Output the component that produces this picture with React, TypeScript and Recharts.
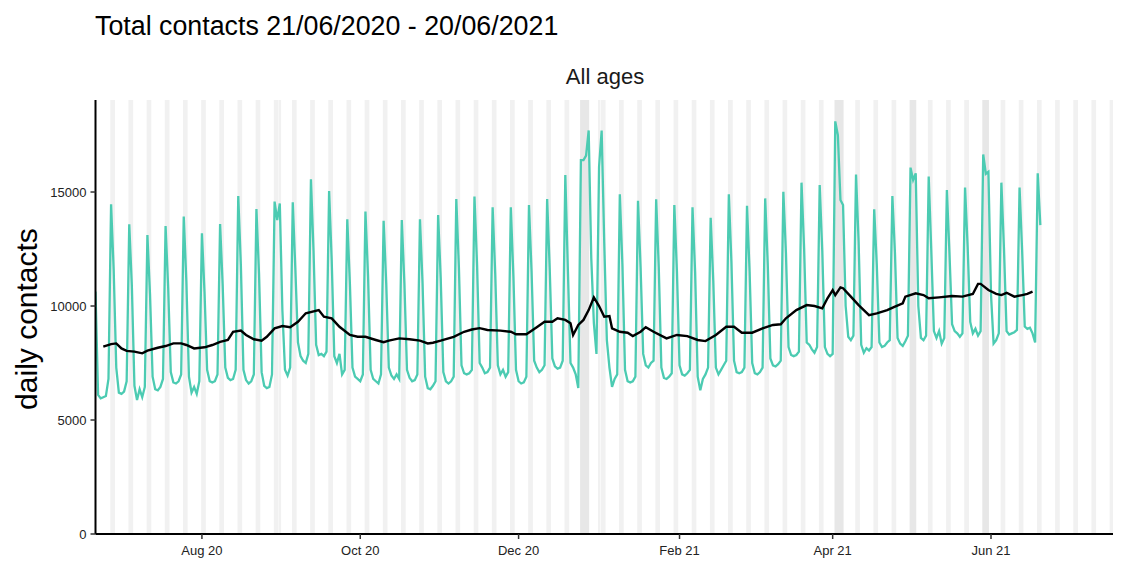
import React from 'react';
import {
  LineChart,
  Line,
  XAxis,
  YAxis,
  ReferenceArea,
} from 'recharts';

// day 0 = Sunday 21/06/2020, one value per day up to 20/06/2021
const START = Date.UTC(2020, 5, 21);
const X_MAX = 392;
const Y_MAX = 19036;

// daily contacts, one row per week (Sun .. Sat)
const dailyContacts: number[] = [
  10630, 6100, 5950, 6000, 6050, 6800, 14460,
  11600, 7300, 6200, 6150, 6250, 6700, 13580,
  10900, 6500, 5880, 6350, 6000, 6450, 13110,
  10500, 6900, 6350, 6300, 6450, 6800, 13510,
  10800, 7100, 6650, 6600, 6700, 7000, 13920,
  11100, 6900, 6200, 6450, 6150, 6700, 13190,
  10600, 7200, 6700, 6650, 6700, 7000, 13600,
  10900, 7300, 6850, 6750, 6800, 7200, 14820,
  11800, 7200, 6750, 6600, 6700, 7000, 14250,
  11400, 7100, 6500, 6400, 6450, 7000, 14580,
  13770, 14500, 9800, 7200, 6950, 7300, 14550,
  11600, 8400, 7800, 7600, 7500, 7900, 15560,
  12400, 8300, 7850, 7900, 7800, 8000, 15040,
  12000, 7800, 7500, 7900, 7000, 7200, 13800,
  11000, 7300, 6900, 6800, 6700, 7000, 14140,
  11300, 7200, 6800, 6700, 6600, 7000, 13740,
  11000, 7300, 6950, 6800, 7000, 6800, 13770,
  11000, 7200, 6850, 6700, 6750, 7000, 13800,
  11000, 6900, 6400, 6350, 6500, 6700, 13990,
  11200, 7100, 6700, 6600, 6700, 6900, 14690,
  11700, 7400, 7050, 7000, 7050, 7200, 14800,
  11800, 7500, 7300, 7050, 7100, 7300, 14330,
  11400, 7400, 7000, 7200, 6900, 7100, 14330,
  11300, 7200, 6700, 6600, 6650, 6900, 14430,
  11500, 7600, 7300, 7100, 7200, 7400, 14690,
  11600, 7700, 7350, 7250, 7300, 7600, 15750,
  11500, 7500, 7300, 7000, 6400, 16400, 16400,
  16600, 17700, 12100, 9250, 7900, 16100, 17700,
  12760, 8500, 7300, 6450, 6800, 7000, 14900,
  11800, 7200, 6700, 6650, 6700, 6900, 14620,
  11700, 7900, 7400, 7300, 7500, 7600, 14680,
  11700, 7300, 6850, 6800, 6900, 7050, 14430,
  11500, 7400, 7000, 6950, 7050, 7200, 14330,
  11500, 6900, 6300, 6800, 7000, 7300, 13870,
  11100, 7300, 7000, 7200, 7400, 7600, 14900,
  11900, 7600, 7100, 7050, 7100, 7300, 14400,
  11500, 7500, 7050, 7000, 7100, 7300, 14720,
  11800, 7700, 7400, 7350, 7450, 7600, 15010,
  12300, 8200, 7850, 7800, 7850, 8000, 15410,
  12500, 8400, 8300, 8100, 7950, 8200, 15310,
  12400, 8200, 7900, 7800, 7900, 18100, 17500,
  14650, 14430, 10000, 8650, 8500, 8700, 15770,
  12800, 8300, 7950, 8150, 8050, 8200, 14240,
  11800, 8400, 8200, 8250, 8400, 8500, 14820,
  12300, 8600, 8350, 8250, 8450, 8700, 16070,
  15530, 15820, 10000, 8600, 8500, 8700, 15680,
  12400, 8900, 8600, 8900, 8350, 8600, 15090,
  12300, 9200, 8900, 8800, 8650, 8800, 15200,
  12600, 9300, 8800, 9000, 8700, 8900, 16650,
  15800, 15890, 10500, 8350, 8500, 8800, 15410,
  12500, 8900, 8750, 8800, 8850, 8950, 15200,
  12400, 9100, 9000, 9050, 8800, 8400, 15820,
  13550,
];

// 7 day average (day index, value)
const rollingDay = [
  3, 6, 8, 10, 12, 15, 18, 20, 24, 27, 30, 33, 35, 38, 42, 45, 48, 51, 53, 56,
  58, 61, 64, 66, 69, 72, 75, 78, 81, 86, 88, 91, 94, 98, 101, 104, 108, 111,
  113, 117, 121, 125, 128, 130, 133, 138, 142, 145, 148, 151, 156, 160, 162,
  166, 170, 173, 176, 178, 181, 183, 184, 186, 188, 190, 192, 194, 196, 198,
  199, 202, 205, 207, 210, 212, 215, 220, 224, 228, 232, 235, 239, 243, 246,
  249, 253, 257, 261, 264, 266, 270, 274, 277, 280, 282, 284, 285, 287, 288,
  291, 294, 298, 301, 305, 308, 311, 312, 316, 319, 321, 325, 330, 334, 338,
  340, 341, 344, 347, 349, 351, 354, 357, 359, 361,
];
const rollingMean = [
  8215, 8330, 8360, 8140, 8030, 8000, 7925, 8040, 8170, 8245, 8360, 8360, 8290,
  8140, 8190, 8290, 8430, 8510, 8870, 8920, 8730, 8540, 8480, 8650, 9020, 9120,
  9070, 9310, 9680, 9820, 9530, 9460, 9090, 8730, 8650, 8650, 8510, 8410, 8480,
  8580, 8540, 8480, 8360, 8390, 8480, 8650, 8870, 8970, 9030, 8950, 8920, 8870,
  8760, 8760, 9070, 9310, 9310, 9460, 9390, 9240, 8730, 9170, 9390, 9820, 10380,
  10000, 9530, 9560, 9020, 8870, 8830, 8680, 8870, 9070, 8870, 8580, 8730, 8680,
  8510, 8460, 8730, 9090, 9090, 8830, 8830, 9020, 9170, 9200, 9460, 9820, 10040,
  10000, 9900, 10340, 10700, 10480, 10820, 10780, 10410, 10040, 9600, 9680, 9820,
  9970, 10120, 10410, 10560, 10480, 10340, 10380, 10440, 10410, 10530, 10970,
  10970, 10700, 10530, 10480, 10580, 10410, 10480, 10530, 10630,
];

const xTickDates = ['2020-08-01', '2020-10-01', '2020-12-01', '2021-02-01', '2021-04-01', '2021-06-01'];
const xTickLabels = ['Aug 20', 'Oct 20', 'Dec 20', 'Feb 21', 'Apr 21', 'Jun 21'];
const yTicks = [0, 5000, 10000, 15000];

// single holidays shaded like a weekend, and holiday weekends shaded darker
const holidayDates = ['2020-08-31', '2021-01-01'];
const holidayWeekends = [
  ['2020-12-25', '2020-12-28'],
  ['2021-04-02', '2021-04-05'],
  ['2021-05-01', '2021-05-03'],
  ['2021-05-29', '2021-05-31'],
];

const dayIndex = (iso: string) => Math.round((Date.parse(iso) - START) / 86400000);

const contactsData = dailyContacts.map((value, day) => ({ day, value }));
const avgData = rollingDay.map((day, i) => ({ day, value: rollingMean[i] }));
const xTicks = xTickDates.map(dayIndex);

const weekendBands: { x1: number; x2: number }[] = [];
for (let d = 0; d <= X_MAX; d++) {
  if (d % 7 === 6) weekendBands.push({ x1: d - 0.3, x2: d + 1.5 });
}
holidayDates.forEach((iso) => {
  const d = dayIndex(iso);
  weekendBands.push({ x1: d - 0.4, x2: d + 0.5 });
});
const darkBands = holidayWeekends.map(([a, b]) => ({
  x1: dayIndex(a) - 0.3,
  x2: dayIndex(b) + 0.2,
}));

const FONT = "'Liberation Sans', Arial, Helvetica, sans-serif";

const App: React.FC = () => {
  return (
    <div
      style={{
        position: 'absolute',
        left: 0,
        top: 0,
        width: 1123,
        height: 562,
        background: '#fff',
        fontFamily: FONT,
      }}
    >
      <div
        style={{
          position: 'absolute',
          left: 95,
          top: 13,
          fontSize: 26.8,
          lineHeight: '27px',
          color: '#000',
          whiteSpace: 'nowrap',
        }}
      >
        Total contacts 21/06/2020 - 20/06/2021
      </div>
      <div
        style={{
          position: 'absolute',
          left: 605,
          top: 66,
          transform: 'translateX(-50%)',
          fontSize: 22,
          lineHeight: '22px',
          color: '#1a1a1a',
          whiteSpace: 'nowrap',
        }}
      >
        All ages
      </div>
      <div
        style={{
          position: 'absolute',
          left: 27,
          top: 319,
          transform: 'translate(-50%, -50%) rotate(-90deg)',
          fontSize: 30,
          lineHeight: '30px',
          color: '#000',
          whiteSpace: 'nowrap',
        }}
      >
        daily contacts
      </div>

      <LineChart
        width={1123}
        height={562}
        margin={{ top: 100, right: 10, bottom: 0, left: 35.5 }}
        style={{ position: 'absolute', left: 0, top: 0 }}
      >
        <XAxis
          type='number'
          dataKey='day'
          domain={[0, X_MAX]}
          allowDataOverflow
          ticks={xTicks}
          tickFormatter={(v: number) => xTickLabels[xTicks.indexOf(v)] ?? ''}
          height={28}
          tickSize={5}
          tickMargin={7}
          axisLine={{ stroke: '#000', strokeWidth: 2 }}
          tickLine={{ stroke: '#333', strokeWidth: 1.5 }}
          tick={{ fill: '#222', fontSize: 13, fontFamily: FONT }}
        />
        <YAxis
          type='number'
          domain={[0, Y_MAX]}
          allowDataOverflow
          ticks={yTicks}
          width={60}
          tickSize={5}
          tickMargin={4}
          axisLine={{ stroke: '#000', strokeWidth: 2 }}
          tickLine={{ stroke: '#333', strokeWidth: 1.5 }}
          tick={{ fill: '#222', fontSize: 13, fontFamily: FONT }}
        />

        {weekendBands.map((b, i) => (
          <ReferenceArea
            key={`w${i}`}
            x1={b.x1}
            x2={b.x2}
            y1={0}
            y2={Y_MAX}
            ifOverflow='hidden'
            fill='#f1f1f1'
            fillOpacity={1}
            stroke='none'
          />
        ))}
        {darkBands.map((b, i) => (
          <ReferenceArea
            key={`h${i}`}
            x1={b.x1}
            x2={b.x2}
            y1={0}
            y2={Y_MAX}
            ifOverflow='hidden'
            fill='#e7e7e7'
            fillOpacity={1}
            stroke='none'
          />
        ))}

        <Line
          data={contactsData}
          dataKey='value'
          type='linear'
          stroke='#4ccbb2'
          strokeWidth={2.3}
          dot={false}
          isAnimationActive={false}
        />
        <Line
          data={avgData}
          dataKey='value'
          type='linear'
          stroke='#000'
          strokeWidth={2.4}
          dot={false}
          isAnimationActive={false}
        />
      </LineChart>
    </div>
  );
};

export default App;
